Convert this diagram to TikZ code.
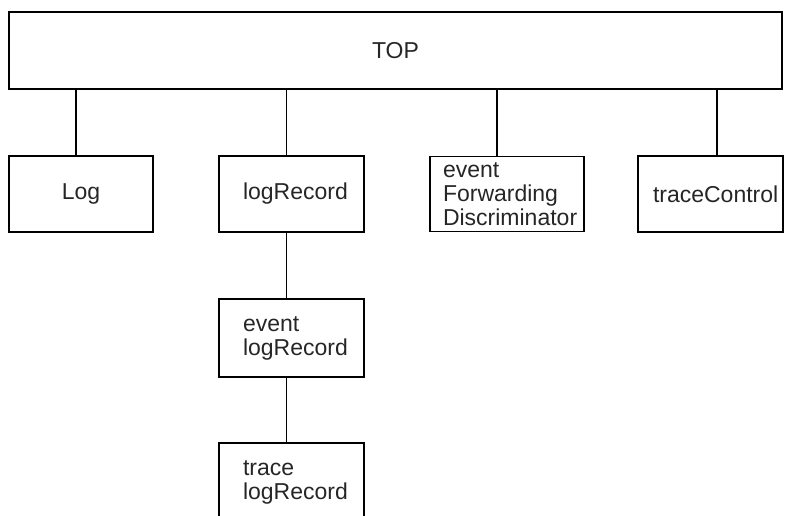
\documentclass[tikz,border=0pt]{standalone}
\usepackage{fontspec}
\setmainfont{Liberation Sans}
\usetikzlibrary{positioning}
\tikzset{
x=1pt, y=-1pt, % one unit is one pixel of the sketch, y runs downwards
every node/.style={font=\fontsize{23}{24}\selectfont, text=black!85},
box/.style={draw, line width=1.6pt, inner sep=0pt, outer sep=0pt, minimum width=145pt, minimum height=76pt, align=center}, % one managed object class
lbox/.style={box, text width=97pt, inner xsep=24pt, align=left}, % the same, text set flush left
link/.style={line width=1.6pt}, % containment line
}

\begin{document}
\begin{tikzpicture}
        \path[use as bounding box, clip] (0,0) rectangle (788,515);

        \node[box, minimum width=773pt, minimum height=77pt] (top) at (395.5,50.5) {TOP};

        \node[box, minimum width=144pt] (log) at (81,194) {Log};
        \node[lbox, right=66pt of log] (logrec) {logRecord};
        \node[lbox, text width=128pt, inner xsep=13pt, minimum height=75pt, right=66pt of logrec] (efd) {event\\Forwarding\\Discriminator};
        \node[lbox, text width=115pt, inner xsep=15pt, right=54pt of efd] (trace) {traceControl};

        \node[lbox, minimum height=78pt, below=67pt of logrec] (evrec) {event\\logRecord};
        \node[lbox, minimum height=78pt, below=66pt of evrec] (trrec) {trace\\logRecord};

        \draw[link] ([xshift=-5pt]log.north) -- ([xshift=-5pt]log.north |- top.south)
              ([xshift=-5pt]logrec.north) -- ([xshift=-5pt]logrec.north |- top.south)
              ([xshift=-10pt]efd.north) -- ([xshift=-10pt]efd.north |- top.south)
              ([xshift=6.5pt]trace.north) -- ([xshift=6.5pt]trace.north |- top.south)
              ([xshift=-5pt]logrec.south) -- ([xshift=-5pt]evrec.north)
              ([xshift=-5pt]evrec.south) -- ([xshift=-5pt]trrec.north)
              ;

    \end{tikzpicture}
\end{document}
